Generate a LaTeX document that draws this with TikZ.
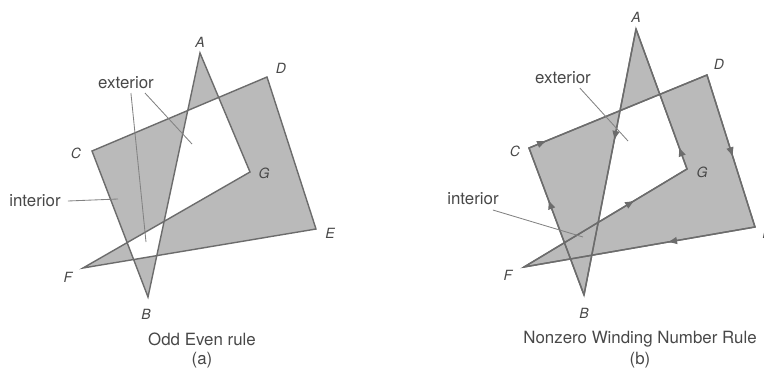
\documentclass[tikz,border=0pt]{standalone}
\usepackage{fontspec}
\setmainfont{TeX Gyre Heros}
\usetikzlibrary{arrows.meta,decorations.markings}
\definecolor{polyfill}{RGB}{186,186,186}
\definecolor{polyline}{RGB}{108,108,108}
\definecolor{inkgray}{RGB}{72,72,72}

\begin{document}
\begin{tikzpicture}[x=0.025cm,y=-0.025cm,
  poly/.style={fill=polyfill,draw=polyline,line width=1pt},
  edge/.style={draw=polyline,line width=1pt,line cap=round},
  lead/.style={draw=polyline!85,line width=0.6pt},
  vlabel/.style={text=inkgray,font=\fontsize{10}{12}\selectfont\itshape,inner sep=0pt},
  tlabel/.style={text=inkgray,font=\fontsize{12}{14}\selectfont,inner sep=0pt},
  midarrow/.style={postaction={decorate},decoration={markings,
    mark=at position #1 with {\arrow{Latex[length=7pt,width=5.5pt]}}}}]
\useasboundingbox (0,0) rectangle (764,374);
\coordinate (a-A) at (200,53);
\coordinate (a-B) at (148,297);
\coordinate (a-C) at (92,151);
\coordinate (a-D) at (267,77);
\coordinate (a-E) at (316,229);
\coordinate (a-F) at (83,268);
\coordinate (a-G) at (250,172);
\filldraw[poly,even odd rule] (a-A) -- (a-B) -- (a-C) -- (a-D) -- (a-E) -- (a-F) -- (a-G) -- cycle;
\node[vlabel] (a-lA) at (200,42) {A};
\node[vlabel] (a-lB) at (146,314) {B};
\node[vlabel] (a-lC) at (76,153) {C};
\node[vlabel] (a-lD) at (281,68) {D};
\node[vlabel] (a-lE) at (330,233) {E};
\node[vlabel] (a-lF) at (68,277) {F};
\node[vlabel] (a-lG) at (264,173) {G};
\node[tlabel] (a-ext) at (126,83) {exterior};
\node[tlabel] (a-int) at (35,201) {interior};
\coordinate (a-ext1) at (146,242);
\coordinate (a-ext2) at (192,144);
\coordinate (a-int1) at (118,199);
\draw[lead] ([shift={(3.5pt,-2.6pt)}]a-ext.south) -- (a-ext1);
\draw[lead] ([shift={(13.5pt,-2.6pt)}]a-ext.south) -- (a-ext2);
\draw[lead] ([xshift=5pt]a-int.east) -- (a-int1);
\node[tlabel] (a-rule) at (202,339) {Odd Even rule};
\node[tlabel] (a-tag) at (202,360) {(a)};
\coordinate (b-A) at (636,29);
\coordinate (b-B) at (584,295);
\coordinate (b-C) at (529,148);
\coordinate (b-D) at (707,75);
\coordinate (b-E) at (755,227);
\coordinate (b-F) at (524,267);
\coordinate (b-G) at (687,169);
\filldraw[poly,nonzero rule] (b-A) -- (b-B) -- (b-C) -- (b-D) -- (b-E) -- (b-F) -- (b-G) -- cycle;
\draw[edge,midarrow=0.42] (b-A) -- (b-B);
\draw[edge,midarrow=0.65] (b-B) -- (b-C);
\draw[edge,midarrow=0.1] (b-C) -- (b-D);
\draw[edge,midarrow=0.54] (b-D) -- (b-E);
\draw[edge,midarrow=0.38] (b-E) -- (b-F);
\draw[edge,midarrow=0.68] (b-F) -- (b-G);
\draw[edge,midarrow=0.16] (b-G) -- (b-A);
\node[vlabel] (b-lA) at (636,17) {A};
\node[vlabel] (b-lB) at (584,313) {B};
\node[vlabel] (b-lC) at (515,151) {C};
\node[vlabel] (b-lD) at (719,64) {D};
\node[vlabel] (b-lE) at (767,233) {E};
\node[vlabel] (b-lF) at (508,275) {F};
\node[vlabel] (b-lG) at (702,172) {G};
\node[tlabel] (b-ext) at (563,78) {exterior};
\node[tlabel] (b-int) at (473,199) {interior};
\coordinate (b-ext1) at (628,141);
\coordinate (b-int1) at (583,237);
\draw[lead] ([shift={(12pt,-2.6pt)}]b-ext.south) -- (b-ext1);
\draw[lead] ([shift={(-4.3pt,-3.3pt)}]b-int.south east) -- (b-int1);
\node[tlabel] (b-rule) at (640,339) {Nonzero Winding Number Rule};
\node[tlabel] (b-tag) at (640,360) {(b)};
\end{tikzpicture}
\end{document}
